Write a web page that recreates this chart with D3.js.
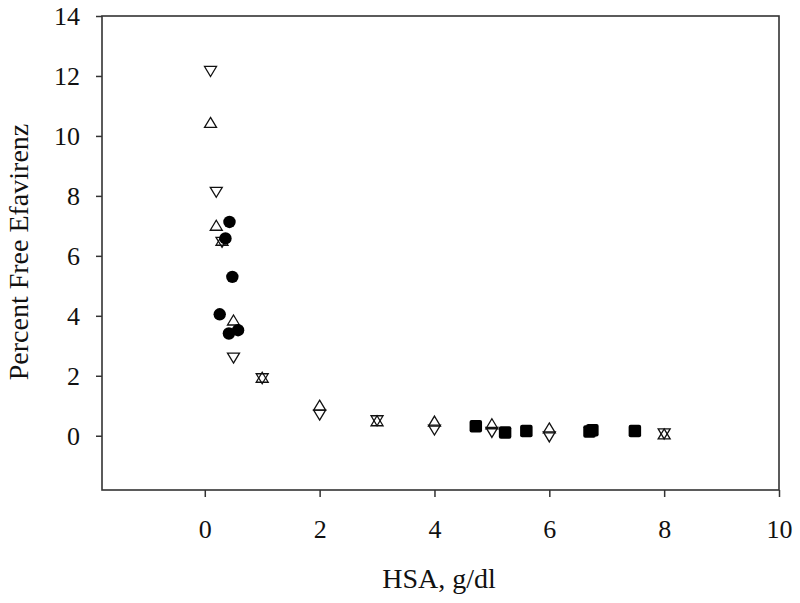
<!DOCTYPE html>
<html>
<head>
<meta charset="utf-8">
<script src="https://cdn.jsdelivr.net/npm/d3@7"></script>
<style>
  body { margin: 0; background: #fff; }
  svg text { font-family: "Liberation Serif", "Times New Roman", serif; fill: #111; }
</style>
</head>
<body>
<div id="scatter"></div>
<script>

// Data
var hsa = [0.1, 0.2, 0.3, 0.5, 1, 2, 3, 4, 5, 6, 8];
var upTriangle = [10.45, 7.02, 6.52, 3.86, 1.95, 1.02, 0.5, 0.49, 0.4, 0.26, 0.06];
var downTriangle = [12.15, 8.12, 6.45, 2.59, 1.9, 0.69, 0.5, 0.19, 0.11, -0.04, 0.06];

var circleX = [0.43, 0.36, 0.48, 0.26, 0.42, 0.58];
var circleY = [7.13, 6.58, 5.3, 4.05, 3.41, 3.52];

var squareX = [4.72, 5.23, 5.6, 6.7, 6.75, 7.49];
var squareY = [0.32, 0.11, 0.16, 0.14, 0.18, 0.16];

var xTicks = [0, 2, 4, 6, 8, 10];
var yTicks = [0, 2, 4, 6, 8, 10, 12, 14];

// Chart dimensions
var svgWidth = 800;
var svgHeight = 603;

var margin = {
  top: 16,
  right: 21,
  bottom: 113,
  left: 102
};

var width = svgWidth - margin.left - margin.right;
var height = svgHeight - margin.top - margin.bottom;

var svg = d3.select("#scatter")
  .append("svg")
  .attr("width", svgWidth)
  .attr("height", svgHeight);

var chartGroup = svg.append("g")
  .attr("transform", `translate(${margin.left}, ${margin.top})`);

// scales
var xLinearScale = d3.scaleLinear()
  .domain([-1.79, 10])
  .range([0, width]);

var yLinearScale = d3.scaleLinear()
  .domain([-1.81, 14])
  .range([height, 0]);

// axes
var bottomAxis = d3.axisBottom(xLinearScale)
  .tickValues(xTicks)
  .tickSize(7)
  .tickPadding(23)
  .tickFormat(d3.format("d"));

var leftAxis = d3.axisLeft(yLinearScale)
  .tickValues(yTicks)
  .tickSize(6)
  .tickPadding(16)
  .tickFormat(d3.format("d"));

var xAxis = chartGroup.append("g")
  .attr("transform", `translate(0, ${height})`)
  .call(bottomAxis);

var yAxis = chartGroup.append("g")
  .call(leftAxis);

[xAxis, yAxis].forEach(function(ax) {
  ax.select(".domain").remove();
  ax.selectAll(".tick line").attr("stroke", "#333").attr("stroke-width", 1.5);
  ax.selectAll(".tick text")
    .attr("font-size", "26px")
    .attr("font-family", "Liberation Serif, Times New Roman, serif")
    .attr("fill", "#111");
});

// frame around the plot
chartGroup.append("rect")
  .attr("x", 0)
  .attr("y", 0)
  .attr("width", width)
  .attr("height", height)
  .attr("fill", "none")
  .attr("stroke", "#333")
  .attr("stroke-width", 1.6);

// triangle markers (open), bbox centred on the point
var triW = 12, triH = 10;
function trianglePath(up) {
  var s = up ? 1 : -1;
  return `M0,${-s * triH / 2}L${triW / 2},${s * triH / 2}L${-triW / 2},${s * triH / 2}Z`;
}

var triData = hsa.map(function(x, i) {
  return { x: x, up: upTriangle[i], down: downTriangle[i] };
});

chartGroup.selectAll(".upTri")
  .data(triData)
  .enter()
  .append("path")
  .attr("class", "upTri")
  .attr("d", trianglePath(true))
  .attr("transform", d => `translate(${xLinearScale(d.x)}, ${yLinearScale(d.up)})`)
  .attr("fill", "none")
  .attr("stroke", "#111")
  .attr("stroke-width", 1.3);

chartGroup.selectAll(".downTri")
  .data(triData)
  .enter()
  .append("path")
  .attr("class", "downTri")
  .attr("d", trianglePath(false))
  .attr("transform", d => `translate(${xLinearScale(d.x)}, ${yLinearScale(d.down)})`)
  .attr("fill", "none")
  .attr("stroke", "#111")
  .attr("stroke-width", 1.3);

// filled circles
chartGroup.selectAll(".dot")
  .data(circleX.map((x, i) => ({ x: x, y: circleY[i] })))
  .enter()
  .append("circle")
  .attr("class", "dot")
  .attr("cx", d => xLinearScale(d.x))
  .attr("cy", d => yLinearScale(d.y))
  .attr("r", 6.2)
  .attr("fill", "#000");

// filled squares
var sq = 12.5;
chartGroup.selectAll(".sq")
  .data(squareX.map((x, i) => ({ x: x, y: squareY[i] })))
  .enter()
  .append("rect")
  .attr("class", "sq")
  .attr("x", d => xLinearScale(d.x) - sq / 2)
  .attr("y", d => yLinearScale(d.y) - sq / 2)
  .attr("width", sq)
  .attr("height", sq)
  .attr("rx", 2)
  .attr("fill", "#000");

// axis titles
chartGroup.append("text")
  .attr("x", (380 + 498) / 2 - margin.left)
  .attr("y", height + 98)
  .attr("text-anchor", "middle")
  .attr("font-size", "28px")
  .text("HSA, g/dl");

chartGroup.append("text")
  .attr("transform", "rotate(-90)")
  .attr("x", -(252 - margin.top))
  .attr("y", 28 - margin.left)
  .attr("text-anchor", "middle")
  .attr("font-size", "28px")
  .text("Percent Free Efavirenz");

</script>
</body>
</html>
